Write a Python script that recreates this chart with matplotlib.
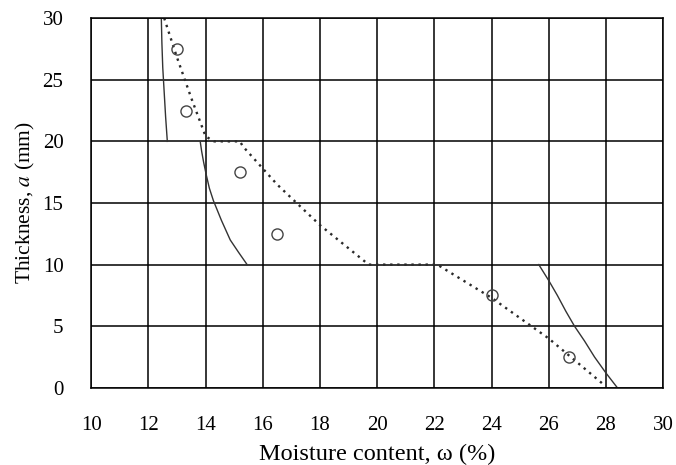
import matplotlib
matplotlib.use("Agg")
import matplotlib.pyplot as plt

plt.rcParams['font.family'] = ['Liberation Serif', 'DejaVu Serif']
plt.rcParams['mathtext.fontset'] = 'stix'

# measured thickness vs moisture content
meas_w = [13.0, 13.3, 15.2, 16.5, 24.0, 26.7]
meas_a = [27.5, 22.5, 17.5, 12.5, 7.5, 2.5]

# dotted model line (stepped)
model_w = [12.55, 13.0, 13.5, 14.0, 14.3, 15.2, 15.3, 16.5, 18.0, 19.7, 22.1, 24.0, 26.0, 27.9]
model_a = [30.0, 26.8, 23.5, 20.4, 20.0, 20.0, 19.6, 16.5, 13.2, 10.0, 10.0, 7.3, 4.0, 0.3]

# solid boundary curves
c1_w = [12.45, 12.47, 12.5, 12.55, 12.6, 12.66]
c1_a = [30.0, 28.0, 26.0, 24.0, 22.0, 20.0]
c2_w = [13.81, 13.86, 13.93, 14.02, 14.13, 14.27, 14.55, 14.86, 15.15, 15.45]
c2_a = [20.0, 19.2, 18.3, 17.3, 16.2, 15.2, 13.6, 12.0, 11.0, 10.0]
c3_w = [25.65, 26.0, 26.3, 26.6, 26.9, 27.25, 27.6, 28.0, 28.4]
c3_a = [10.0, 8.7, 7.5, 6.2, 5.0, 3.8, 2.5, 1.2, 0.0]

x_ticks = [10, 12, 14, 16, 18, 20, 22, 24, 26, 28, 30]
y_ticks = [0, 5, 10, 15, 20, 25, 30]

fig = plt.figure(figsize=(6.76, 4.65), dpi=100)
ax = fig.add_axes([0.135, 0.166, 0.846, 0.795])

ax.set_xlim(10, 30)
ax.set_ylim(0, 30)
ax.set_xticks(x_ticks)
ax.set_yticks(y_ticks)
ax.grid(True, color='black', linewidth=1.1)
ax.set_axisbelow(True)
for s in ax.spines.values():
    s.set_linewidth(1.1)
ax.tick_params(length=0, labelsize=15)
ax.tick_params(axis='x', pad=20)
ax.tick_params(axis='y', pad=20)

for w, a in [(c1_w, c1_a), (c2_w, c2_a), (c3_w, c3_a)]:
    ax.plot(w, a, color='#333333', linewidth=1.0)
ax.plot(model_w, model_a, color='#2a2a2a', linestyle=(0, (1, 2.0)), linewidth=1.7)
ax.plot(meas_w, meas_a, 'o', markersize=8, markerfacecolor='none',
        markeredgecolor='#444444', markeredgewidth=1.0)

ax.set_xlabel('Moisture content, ω (%)', fontsize=17.5, labelpad=7)
ax.set_ylabel('Thickness, $a$ (mm)', fontsize=15.5, labelpad=4)

fig.savefig('out.png', dpi=100)
